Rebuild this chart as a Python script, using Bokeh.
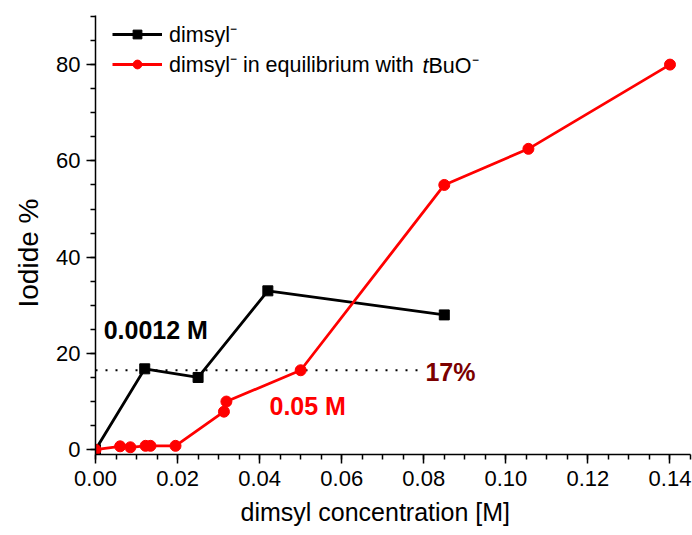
from bokeh.plotting import figure
from bokeh.models import Range1d, Legend, LegendItem, Label, FixedTicker, Title
from bokeh.embed import file_html
from bokeh.resources import INLINE

# dimsyl alone
dimsyl_conc = [0.0, 0.012, 0.025, 0.042, 0.085]
dimsyl_iodide = [0.0, 16.8, 15.0, 33.0, 28.0]

# dimsyl in equilibrium with tBuO-
eq_conc = [0.0, 0.006, 0.0085, 0.0122, 0.0134, 0.0195, 0.0313, 0.0319, 0.050, 0.085, 0.1055, 0.140]
eq_iodide = [0.0, 0.7, 0.5, 0.8, 0.8, 0.8, 7.9, 10.0, 16.5, 55.0, 62.5, 80.0]

# 17 % reference level (dotted)
ref_level = 16.5
ref_x = [0.0, 0.079]

x_ticks = [0.00, 0.02, 0.04, 0.06, 0.08, 0.10, 0.12, 0.14]
y_ticks = [0, 20, 40, 60, 80]

FONT = "Liberation Sans"

p = figure(width=692, height=535, output_backend="svg", toolbar_location=None,
           x_range=Range1d(0, 0.145), y_range=Range1d(-1.0, 90.2),
           min_border_left=95, min_border_right=2, min_border_top=15, min_border_bottom=81)
p.outline_line_color = None
p.grid.visible = False
p.background_fill_color = "white"
p.border_fill_color = "white"

for ax in (p.xaxis[0], p.yaxis[0]):
    ax.axis_line_width = 1.5
    ax.axis_line_color = "black"
    ax.major_tick_in = 0
    ax.major_tick_out = 9
    ax.minor_tick_in = 0
    ax.minor_tick_out = 5
    ax.major_tick_line_width = 1.5
    ax.minor_tick_line_width = 1.5
    ax.major_label_text_font = FONT
    ax.major_label_text_font_size = "22px"
    ax.major_label_text_color = "black"

p.xaxis.ticker = FixedTicker(ticks=x_ticks, minor_ticks=[i * 0.005 for i in range(0, 30)])
p.xaxis.major_label_overrides = {t: f"{t:.2f}" for t in x_ticks}
p.xaxis.major_label_standoff = 7

p.yaxis.ticker = FixedTicker(ticks=y_ticks, minor_ticks=[i * 5 for i in range(0, 19)])
p.yaxis.major_label_standoff = 6

# axis titles as side titles so they can sit off-centre
p.add_layout(Title(text="dimsyl concentration [M]", align="left", offset=145, standoff=14,
                   text_font=FONT, text_font_size="25px", text_font_style="normal",
                   text_color="black"), "below")
p.add_layout(Title(text="Iodide %", align="left", offset=147, standoff=19,
                   text_font=FONT, text_font_size="28px", text_font_style="normal",
                   text_color="black"), "left")

# dotted 17 % level
p.line(ref_x, [ref_level, ref_level], line_color="black", line_width=2, line_dash="2 8")

black_line = p.line(dimsyl_conc, dimsyl_iodide, line_color="black", line_width=2.8)
black_pts = p.scatter(dimsyl_conc, dimsyl_iodide, marker="square", size=10,
                      fill_color="black", line_color="black")

red_line = p.line(eq_conc, eq_iodide, line_color="#ff0000", line_width=2.8)
red_pts = p.scatter(eq_conc, eq_iodide, marker="circle", size=11,
                    fill_color="#ff0000", line_color="#ff0000")

legend = Legend(items=[
    LegendItem(label="dimsyl\u207b", renderers=[black_line, black_pts]),
    LegendItem(label="dimsyl\u207b in equilibrium with", renderers=[red_line, red_pts]),
], location=(17, 376))
legend.border_line_color = None
legend.background_fill_alpha = 0
legend.padding = 0
legend.margin = 0
legend.spacing = 1
legend.glyph_width = 50
legend.glyph_height = 22
legend.label_height = 22
legend.label_standoff = 7
legend.label_text_font = FONT
legend.label_text_font_size = "21.5px"
legend.label_text_color = "black"
p.add_layout(legend)

# italic t in tBuO-
p.add_layout(Label(x=327, y=389, x_units="screen", y_units="screen", text="t",
                   text_font=FONT, text_font_size="21.5px", text_font_style="italic",
                   text_baseline="middle", text_color="black"))
p.add_layout(Label(x=333, y=389, x_units="screen", y_units="screen", text="BuO\u207b",
                   text_font=FONT, text_font_size="21.5px",
                   text_baseline="middle", text_color="black"))

# annotations
p.add_layout(Label(x=0.002, y=24.8, text="0.0012 M", text_font=FONT, text_font_size="25px",
                   text_font_style="bold", text_color="black", text_baseline="middle"))
p.add_layout(Label(x=0.0424, y=9.1, text="0.05 M", text_font=FONT, text_font_size="25px",
                   text_font_style="bold", text_color="#ff0000", text_baseline="middle"))
p.add_layout(Label(x=0.0804, y=16.1, text="17%", text_font=FONT, text_font_size="25px",
                   text_font_style="bold", text_color="#7b0000", text_baseline="middle"))

open("out.html", "w").write(file_html(p, INLINE))
